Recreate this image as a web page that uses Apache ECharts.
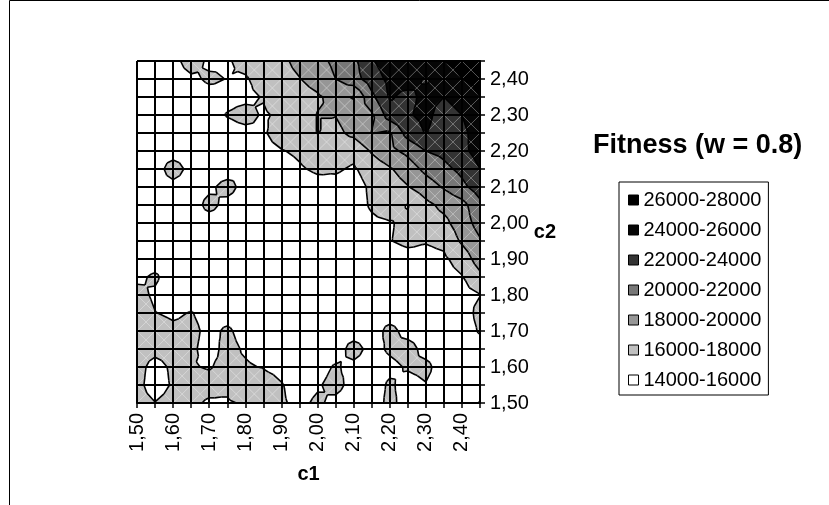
<!DOCTYPE html>
<html>
<head>
<meta charset="utf-8">
<script src="https://cdn.jsdelivr.net/npm/echarts@6/dist/echarts.min.js"></script>
<style>
html, body { margin: 0; padding: 0; background: #fff; }
#main { width: 829px; height: 505px; }
</style>
</head>
<body>
<div id="main"></div>
<script>
var c1Values = [1.50, 1.55, 1.60, 1.65, 1.70, 1.75, 1.80, 1.85, 1.90, 1.95,
                2.00, 2.05, 2.10, 2.15, 2.20, 2.25, 2.30, 2.35, 2.40, 2.45];
var c2Values = [1.50, 1.55, 1.60, 1.65, 1.70, 1.75, 1.80, 1.85, 1.90, 1.95,
                2.00, 2.05, 2.10, 2.15, 2.20, 2.25, 2.30, 2.35, 2.40, 2.45];
var bandEdges = [14000, 16000, 18000, 20000, 22000, 24000, 26000, 28000];
var bandLabels = ['14000-16000', '16000-18000', '18000-20000', '20000-22000',
                  '22000-24000', '24000-26000', '26000-28000'];
var bandColors = ['#ffffff', '#c0c0c0', '#969696', '#777777', '#333333', '#060606', '#000000'];

// fitness, one row per c2 value, from c2 = 2,45 (top) down to c2 = 1,50
var fitness = [
  [15000, 15000, 15300, 17000, 15600, 15800, 16600, 17200, 17700, 18400, 19300, 20500, 21500, 23800, 25000, 25500, 25000, 26000, 26500, 27000],
  [15000, 15000, 15000, 15600, 16300, 15950, 15800, 16800, 17500, 17950, 18600, 20000, 21200, 23000, 24500, 24800, 23800, 25000, 26000, 26500],
  [15000, 15000, 15000, 15000, 15300, 15500, 15600, 16100, 17000, 17400, 17800, 18500, 17900, 21500, 24200, 23500, 24500, 24000, 24800, 26000],
  [15000, 16050, 15000, 15000, 15300, 16100, 16600, 15800, 16300, 17300, 18050, 18050, 19000, 19700, 23000, 23800, 24500, 23200, 24000, 25500],
  [15000, 15000, 15000, 15000, 15000, 15300, 15500, 15800, 16800, 17200, 18050, 17500, 18500, 20050, 19800, 22800, 24100, 23000, 23500, 25000],
  [15000, 15000, 15000, 15000, 15000, 15000, 15200, 15500, 15900, 16300, 17000, 16800, 16500, 18200, 19500, 20500, 22000, 22500, 23500, 24800],
  [15000, 15000, 17000, 15300, 15000, 15000, 15700, 15300, 15300, 15800, 16300, 16200, 15800, 16800, 17800, 19000, 20500, 21500, 22500, 24000],
  [15000, 15000, 15300, 15000, 15600, 16700, 15300, 15000, 15000, 15000, 15300, 15500, 15300, 16300, 17000, 17900, 19000, 20200, 21500, 23000],
  [15000, 15000, 15000, 15000, 16600, 15400, 15000, 15000, 15000, 15000, 15000, 15000, 15300, 16200, 16800, 15900, 17500, 18500, 19300, 21500],
  [15000, 15000, 15000, 15000, 15000, 15000, 15000, 15000, 15000, 15000, 15000, 15000, 15200, 15700, 15900, 16300, 17000, 17500, 19000, 20800],
  [15000, 15000, 15000, 15000, 15000, 15000, 15000, 15000, 15000, 15000, 15000, 15000, 15000, 15300, 15950, 16300, 16100, 16400, 18300, 19800],
  [15000, 15000, 15000, 15000, 15000, 15000, 15000, 15000, 15000, 15000, 15000, 15000, 15000, 15000, 15300, 15500, 15500, 15700, 16800, 19000],
  [15600, 16300, 15000, 15000, 15000, 15000, 15000, 15000, 15000, 15000, 15000, 16050, 15000, 15000, 15000, 16050, 15000, 15300, 15900, 17500],
  [16600, 15700, 15000, 15000, 15000, 15000, 15000, 15000, 15000, 15000, 15000, 15000, 15000, 15000, 15000, 15000, 15000, 15000, 15300, 15950],
  [17000, 16050, 15700, 16100, 15300, 15200, 15000, 15000, 15000, 15000, 15000, 15000, 15000, 15000, 15000, 15000, 15000, 15000, 15000, 16600],
  [17200, 16800, 16400, 16500, 15500, 16300, 15300, 15000, 16050, 15000, 15000, 15000, 15000, 15000, 16600, 15300, 15000, 15000, 15000, 16200],
  [16800, 16500, 16700, 16300, 15400, 16500, 15800, 15300, 15000, 15000, 15000, 15000, 16800, 15300, 16300, 16800, 15300, 15000, 15000, 15000],
  [16600, 15400, 16300, 16100, 15900, 16400, 16200, 15900, 15500, 15000, 15300, 16200, 15500, 15000, 15500, 16200, 16500, 15000, 15000, 15000],
  [16500, 15200, 16200, 16600, 16500, 16600, 18050, 16800, 16100, 15300, 15800, 16600, 15300, 15000, 16300, 15300, 15900, 15000, 15000, 15000],
  [16600, 16050, 16600, 16300, 15800, 15700, 16300, 16600, 16200, 15600, 16300, 15500, 15000, 15000, 16500, 15200, 15000, 15000, 15000, 16100]
];

function valueAt(i, j) {
  return fitness[c2Values.length - 1 - j][i];
}

// one data item per grid cell
var cells = [];
for (var j = 0; j < c2Values.length - 1; j++) {
  for (var i = 0; i < c1Values.length - 1; i++) {
    cells.push([c1Values[i], c2Values[j], i, j]);
  }
}

function cellPoints(api) {
  var i = api.value(2), j = api.value(3);
  var idx = [[i, j], [i + 1, j], [i + 1, j + 1], [i, j + 1]];
  var pts = idx.map(function (c) {
    var p = api.coord([c1Values[c[0]], c2Values[c[1]]]);
    return { x: p[0], y: p[1], v: valueAt(c[0], c[1]) };
  });
  var mid = { x: 0, y: 0, v: 0 };
  pts.forEach(function (p) { mid.x += p.x / 4; mid.y += p.y / 4; mid.v += p.v / 4; });
  var tris = [];
  for (var k = 0; k < 4; k++) tris.push([pts[k], pts[(k + 1) % 4], mid]);
  return { pts: pts, mid: mid, tris: tris };
}

// keep the part of a polygon above (or below) a level
function clip(poly, level, above) {
  var out = [];
  for (var k = 0; k < poly.length; k++) {
    var a = poly[k], b = poly[(k + 1) % poly.length];
    var ina = above ? a.v >= level : a.v <= level;
    var inb = above ? b.v >= level : b.v <= level;
    if (ina) out.push(a);
    if (ina !== inb) {
      var t = (level - a.v) / (b.v - a.v);
      out.push({ x: a.x + t * (b.x - a.x), y: a.y + t * (b.y - a.y), v: level });
    }
  }
  return out;
}

function bandRenderer(b) {
  return function (params, api) {
    var cell = cellPoints(api);
    var children = [];
    cell.tris.forEach(function (tri) {
      var poly = clip(clip(tri, bandEdges[b], true), bandEdges[b + 1], false);
      if (poly.length >= 3) {
        children.push({
          type: 'polygon',
          shape: { points: poly.map(function (p) { return [p.x, p.y]; }) },
          style: { fill: bandColors[b], stroke: bandColors[b], lineWidth: 0.6 }
        });
      }
    });
    return { type: 'group', children: children };
  };
}

function lineRenderer(params, api) {
  var cell = cellPoints(api);
  var p = cell.pts;
  var diag = { stroke: 'rgba(255,255,255,0.3)', lineWidth: 1 };
  var children = [
    { type: 'line', shape: { x1: p[0].x, y1: p[0].y, x2: p[2].x, y2: p[2].y }, style: diag },
    { type: 'line', shape: { x1: p[1].x, y1: p[1].y, x2: p[3].x, y2: p[3].y }, style: diag }
  ];
  cell.tris.forEach(function (tri) {
    for (var L = 1; L < bandEdges.length - 1; L++) {
      var level = bandEdges[L];
      var hits = [];
      for (var k = 0; k < 3; k++) {
        var a = tri[k], c = tri[(k + 1) % 3];
        if ((a.v < level) !== (c.v < level)) {
          var t = (level - a.v) / (c.v - a.v);
          hits.push([a.x + t * (c.x - a.x), a.y + t * (c.y - a.y)]);
        }
      }
      if (hits.length === 2) {
        children.push({
          type: 'line',
          shape: { x1: hits[0][0], y1: hits[0][1], x2: hits[1][0], y2: hits[1][1] },
          style: { stroke: '#000', lineWidth: 1.6 }
        });
      }
    }
  });
  return { type: 'group', children: children };
}

function tickLabel(v) {
  var h = Math.round(v * 100);
  return h % 10 === 0 ? (h / 100).toFixed(2).replace('.', ',') : '';
}

var series = bandLabels.map(function (name, b) {
  return {
    name: name,
    type: 'custom',
    renderItem: bandRenderer(b),
    itemStyle: { color: bandColors[b] },
    data: cells,
    z: 2,
    silent: true
  };
});
series.push({
  type: 'custom',
  renderItem: lineRenderer,
  data: cells,
  z: 3,
  silent: true
});

var font = 'Liberation Sans, Arial, sans-serif';
var axisCommon = {
  type: 'value',
  min: 1.5,
  max: 2.45,
  interval: 0.05,
  z: 5,
  axisLine: { show: true, lineStyle: { color: '#000', width: 2 } },
  axisTick: { show: true, length: 5, lineStyle: { color: '#000', width: 1.5 } },
  splitLine: { show: true, lineStyle: { color: '#000', width: 2 } },
  nameLocation: 'middle',
  nameTextStyle: { color: '#000', fontSize: 20, fontWeight: 'bold', fontFamily: font }
};

var chart = echarts.init(document.getElementById('main'));
chart.setOption({
  backgroundColor: '#fff',
  animation: false,
  title: {
    text: 'Fitness (w = 0.8)',
    left: 593,
    top: 132,
    padding: 0,
    textStyle: { fontSize: 27, fontWeight: 'bold', color: '#000', fontFamily: font }
  },
  legend: {
    orient: 'vertical',
    left: 619,
    top: 182,
    padding: [8, 7, 5, 9],
    itemGap: 10,
    itemWidth: 10,
    itemHeight: 10,
    icon: 'rect',
    selectedMode: false,
    borderColor: '#000',
    borderWidth: 1,
    itemStyle: { borderColor: '#000', borderWidth: 1 },
    textStyle: { fontSize: 20, color: '#000', fontFamily: font },
    data: bandLabels.slice().reverse()
  },
  grid: { left: 137, top: 61, width: 343, height: 342 },
  xAxis: Object.assign({}, axisCommon, {
    position: 'bottom',
    name: 'c1',
    nameGap: 61,
    axisLabel: { rotate: 90, margin: 10, fontSize: 20, color: '#000', fontFamily: font, formatter: tickLabel }
  }),
  yAxis: Object.assign({}, axisCommon, {
    position: 'right',
    name: 'c2',
    nameGap: 53,
    nameRotate: 0,
    axisLabel: { margin: 10, fontSize: 20, color: '#000', fontFamily: font, formatter: tickLabel }
  }),
  graphic: [{
    type: 'rect',
    shape: { x: 9.5, y: 0.5, width: 830, height: 520 },
    style: { fill: null, stroke: '#000', lineWidth: 1 },
    silent: true
  }],
  series: series
});
</script>
</body>
</html>
